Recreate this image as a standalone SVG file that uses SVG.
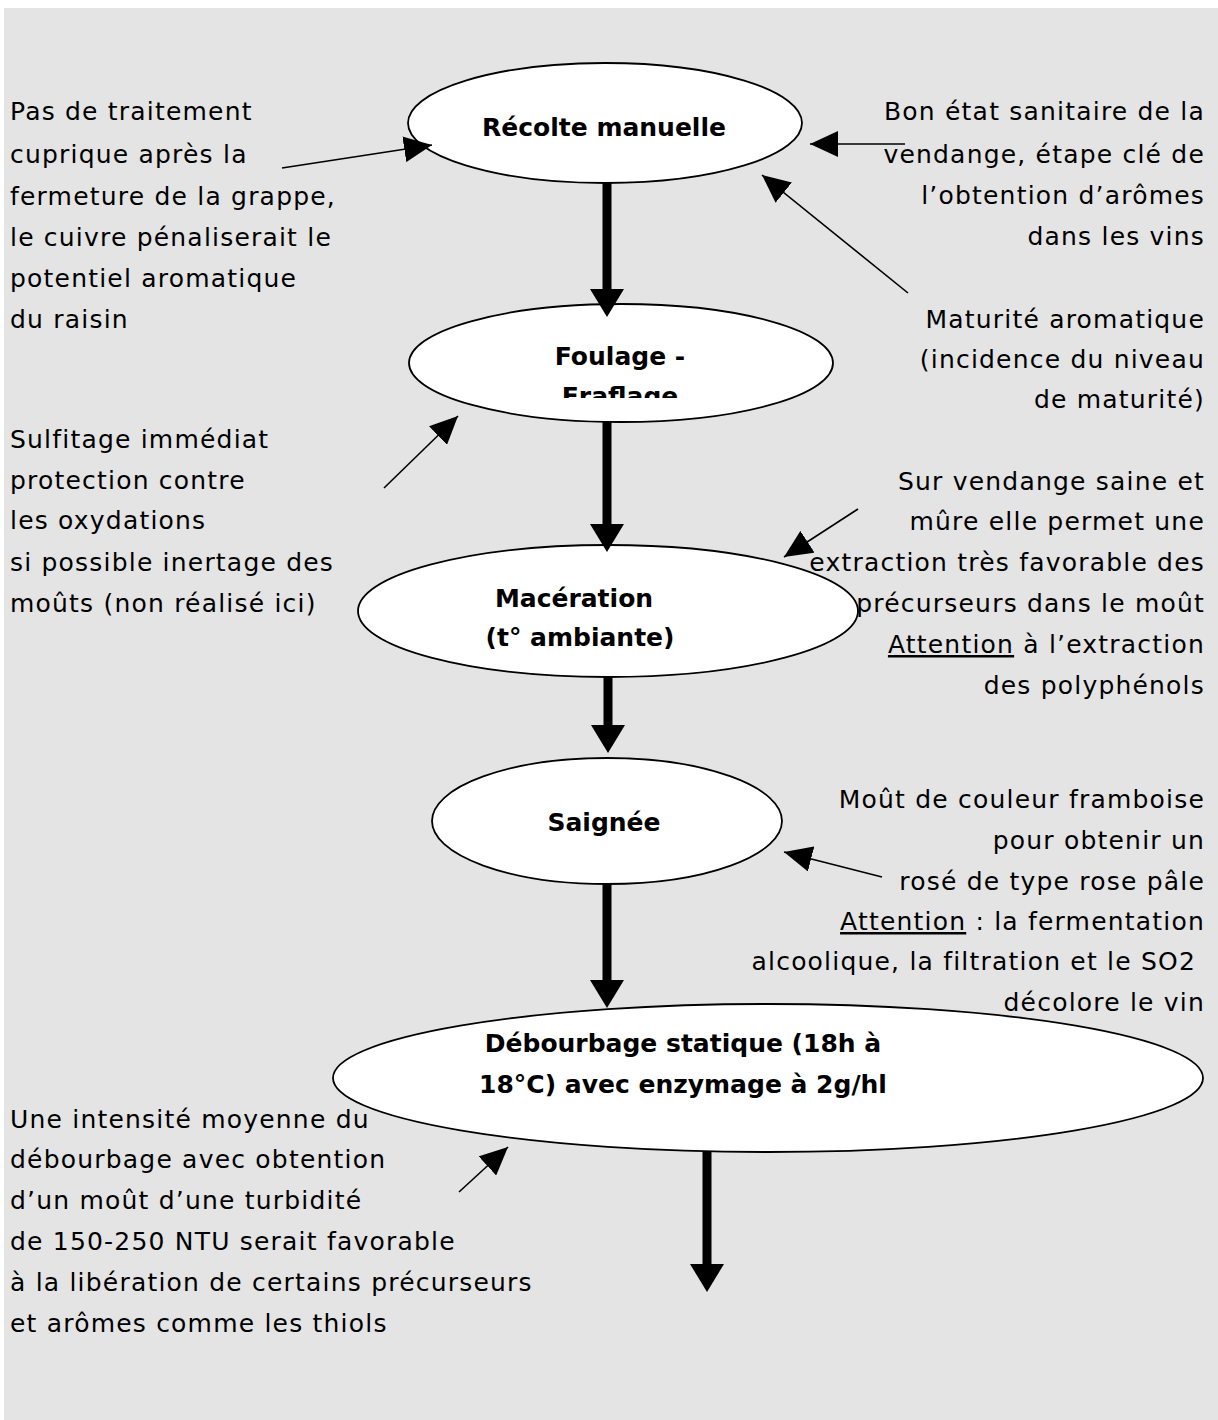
<svg xmlns="http://www.w3.org/2000/svg" width="1218" height="1420" viewBox="0 0 1218 1420">
<defs>
<style>
.bg{fill:#e4e4e4}
.node{fill:#ffffff;stroke:#000;stroke-width:1.8}
.nt{font-family:"DejaVu Sans",sans-serif;font-weight:bold;font-size:25px;fill:#000;text-anchor:middle}
.t{font-family:"DejaVu Sans",sans-serif;font-size:25px;letter-spacing:1.2px;fill:#000}
.r{text-anchor:end}
.thin{stroke:#000;stroke-width:1.6;fill:none;marker-end:url(#h)}
.thick{stroke:#000;stroke-width:9;fill:none;marker-end:url(#H)}
.u{text-decoration:underline}
</style>
<marker id="h" markerUnits="userSpaceOnUse" viewBox="0 0 28 26" refX="28" refY="13" markerWidth="28" markerHeight="26" orient="auto">
<path d="M0,0 L28,13 L0,26 z" fill="#000"/>
</marker>
<marker id="H" markerUnits="userSpaceOnUse" viewBox="0 0 28 34" refX="1" refY="17" markerWidth="28" markerHeight="34" orient="auto">
<path d="M0,0 L28,17 L0,34 z" fill="#000"/>
</marker>
<clipPath id="c2"><rect x="400" y="300" width="440" height="98"/></clipPath>
<clipPath id="c3"><rect x="350" y="540" width="520" height="109"/></clipPath>
</defs>
<rect class="bg" x="4" y="8" width="1214" height="1412"/>

<g id="n1">
<ellipse class="node" cx="605" cy="123" rx="197" ry="60"/>
<text class="nt" x="604" y="136">Récolte manuelle</text>
</g>
<g id="n2">
<ellipse class="node" cx="621" cy="363" rx="212" ry="59"/>
<g clip-path="url(#c2)">
<text class="nt" x="620" y="365">Foulage -</text>
<text class="nt" x="620" y="405">Eraflage</text>
</g>
</g>
<g id="n3">
<ellipse class="node" cx="608" cy="611" rx="250" ry="66"/>
<g clip-path="url(#c3)">
<text class="nt" x="574" y="607">Macération</text>
<text class="nt" x="580" y="646">(t° ambiante)</text>
</g>
</g>
<g id="n4">
<ellipse class="node" cx="607" cy="821" rx="175" ry="63"/>
<text class="nt" x="604" y="831">Saignée</text>
</g>
<g id="n5">
<ellipse class="node" cx="768" cy="1078" rx="435" ry="74"/>
<text class="nt" x="683" y="1052">Débourbage statique (18h à</text>
<text class="nt" x="683" y="1093">18°C) avec enzymage à 2g/hl</text>
</g>

<g id="notes">
<text class="t"><tspan x="10" y="120">Pas de traitement</tspan><tspan x="10" y="163">cuprique après la</tspan><tspan x="10" y="205">fermeture de la grappe,</tspan><tspan x="10" y="246">le cuivre pénaliserait le</tspan><tspan x="10" y="287">potentiel aromatique</tspan><tspan x="10" y="328">du raisin</tspan></text>
<text class="t"><tspan x="10" y="448">Sulfitage immédiat</tspan><tspan x="10" y="489">protection contre</tspan><tspan x="10" y="529">les oxydations</tspan><tspan x="10" y="571">si possible inertage des</tspan><tspan x="10" y="612">moûts (non réalisé ici)</tspan></text>
<text class="t"><tspan x="10" y="1128">Une intensité moyenne du</tspan><tspan x="10" y="1168">débourbage avec obtention</tspan><tspan x="10" y="1209">d’un moût d’une turbidité</tspan><tspan x="10" y="1250">de 150-250 NTU serait favorable</tspan><tspan x="10" y="1291">à la libération de certains précurseurs</tspan><tspan x="10" y="1332">et arômes comme les thiols</tspan></text>
<text class="t r"><tspan x="1205" y="120">Bon état sanitaire de la</tspan><tspan x="1205" y="163">vendange, étape clé de</tspan><tspan x="1205" y="204">l’obtention d’arômes</tspan><tspan x="1205" y="245">dans les vins</tspan></text>
<text class="t r"><tspan x="1205" y="328">Maturité aromatique</tspan><tspan x="1205" y="368">(incidence du niveau</tspan><tspan x="1205" y="408">de maturité)</tspan></text>
<text class="t r"><tspan x="1205" y="490">Sur vendange saine et</tspan><tspan x="1205" y="530">mûre elle permet une</tspan><tspan x="1205" y="571">extraction très favorable des</tspan><tspan x="1205" y="612">précurseurs dans le moût</tspan><tspan x="1205" y="653"><tspan class="u">Attention</tspan> à l’extraction</tspan><tspan x="1205" y="694">des polyphénols</tspan></text>
<text class="t r"><tspan x="1205" y="808">Moût de couleur framboise</tspan><tspan x="1205" y="849">pour obtenir un</tspan><tspan x="1205" y="890">rosé de type rose pâle</tspan><tspan x="1205" y="930"><tspan class="u">Attention</tspan> : la fermentation</tspan><tspan x="1196" y="970">alcoolique, la filtration et le SO2</tspan><tspan x="1205" y="1011">décolore le vin</tspan></text>
</g>

<g id="connectors">
<line class="thick" x1="607" y1="183" x2="607" y2="290"/>
<line class="thick" x1="607" y1="422" x2="607" y2="525"/>
<line class="thick" x1="608" y1="677" x2="608" y2="726"/>
<line class="thick" x1="607" y1="884" x2="607" y2="981"/>
<line class="thick" x1="707" y1="1152" x2="707" y2="1265"/>
<line class="thin" x1="282" y1="168" x2="432" y2="145"/>
<line class="thin" x1="905" y1="144" x2="810" y2="144"/>
<line class="thin" x1="908" y1="293" x2="762" y2="175"/>
<line class="thin" x1="384" y1="488" x2="458" y2="416"/>
<line class="thin" x1="858" y1="509" x2="784" y2="557"/>
<line class="thin" x1="882" y1="877" x2="784" y2="852"/>
<line class="thin" x1="459" y1="1192" x2="508" y2="1147"/>
</g>
</svg>
